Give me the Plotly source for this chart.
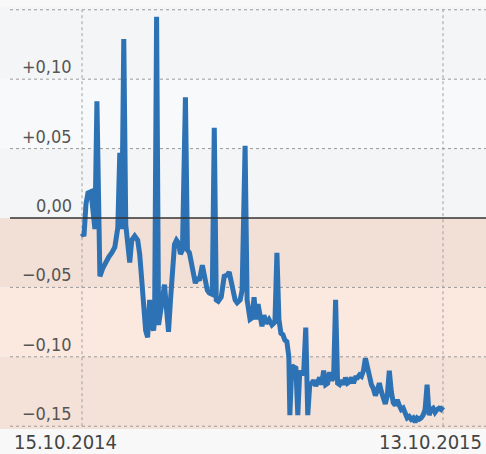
import pandas as pd
import plotly.graph_objects as go

start_date = "2014-10-15"
end_date = "2015-10-13"

days_since_start = [
    0, 2, 4, 6, 9, 11, 13, 15, 17, 18, 21, 24, 27, 30, 33, 36, 38, 40, 42, 44,
    46, 48, 50, 53, 56, 58, 60, 62, 64, 66, 68, 70, 72, 73, 75, 77, 79, 81, 83, 85,
    87, 89, 91, 93, 95, 97, 99, 101, 104, 106, 108, 111, 114, 116, 118, 121, 124, 126, 128, 131,
    133, 135, 137, 140, 143, 146, 148, 150, 152, 154, 156, 159, 161, 164, 166, 167, 169, 171, 173, 175,
    177, 181, 183, 185, 188, 191, 194, 196, 198, 200, 202, 204, 206, 208, 209, 211, 213, 215, 217, 219,
    221, 223, 225, 227, 229, 231, 233, 235, 237, 239, 241, 243, 245, 247, 249, 251, 253, 255, 257, 259,
    261, 263, 265, 267, 269, 271, 273, 275, 277, 279, 281, 283, 285, 287, 289, 291, 293, 295, 297, 299,
    301, 303, 305, 307, 309, 311, 313, 315, 317, 319, 321, 323, 325, 327, 329, 331, 333, 335, 337, 339,
    341, 343, 345, 347, 349, 351, 353, 355, 357, 359, 361, 363,
]

values = [
    -0.011, -0.013, 0.010, 0.018, 0.019, 0.002, -0.008, 0.084, -0.034, -0.042, -0.036, -0.031, -0.028, -0.025, -0.021, -0.007, 0.047, -0.008, 0.129, -0.005,
    -0.023, -0.032, -0.016, -0.013, -0.016, -0.026, -0.044, -0.066, -0.081, -0.086, -0.059, -0.077, -0.081, -0.073, 0.145, -0.077, -0.066, -0.058, -0.048, -0.066,
    -0.082, -0.059, -0.030, -0.019, -0.016, -0.018, -0.026, -0.023, 0.087, -0.023, -0.025, -0.035, -0.047, -0.043, -0.045, -0.034, -0.045, -0.052, -0.054, -0.055,
    0.065, -0.059, -0.060, -0.057, -0.042, -0.041, -0.039, -0.046, -0.052, -0.059, -0.061, -0.059, -0.052, 0.052, -0.059, -0.064, -0.073, -0.072, -0.057, -0.073,
    -0.062, -0.078, -0.070, -0.076, -0.073, -0.077, -0.075, -0.025, -0.073, -0.083, -0.084, -0.088, -0.089, -0.100, -0.142, -0.106, -0.108, -0.107, -0.142, -0.110,
    -0.113, -0.110, -0.079, -0.142, -0.120, -0.119, -0.117, -0.121, -0.118, -0.115, -0.120, -0.110, -0.120, -0.119, -0.111, -0.117, -0.115, -0.059, -0.119, -0.120,
    -0.117, -0.120, -0.115, -0.119, -0.118, -0.115, -0.119, -0.115, -0.115, -0.113, -0.114, -0.110, -0.101, -0.108, -0.113, -0.120, -0.123, -0.128, -0.124, -0.119,
    -0.125, -0.129, -0.134, -0.128, -0.110, -0.125, -0.133, -0.135, -0.131, -0.135, -0.138, -0.137, -0.140, -0.144, -0.143, -0.145, -0.144, -0.147, -0.144, -0.145,
    -0.144, -0.142, -0.138, -0.120, -0.142, -0.138, -0.137, -0.140, -0.138, -0.137, -0.138, -0.136,
]

y_ticks = [0.10, 0.05, 0.00, -0.05, -0.10, -0.15]
y_tick_labels = ["+0,10", "+0,05", "0,00", "\u22120,05", "\u22120,10", "\u22120,15"]
x_tick_labels = ["15.10.2014", "13.10.2015"]
band_edges = [0.152, 0.10, 0.05, 0.0, -0.05, -0.10, -0.152]
band_colors = ["#f4f5f6", "#f8f9fa", "#f4f5f6", "#f2dfd5", "#fbe8df", "#f4e1d7"]

W, H = 486, 454
t0 = pd.Timestamp(start_date)
t1 = pd.Timestamp(end_date)
dates = [t0 + pd.Timedelta(days=d) for d in days_since_start]

# x range so that start_date sits at px 82 and end_date at px 443 of a 486-px-wide plot
px0, px1 = 82, 443
day_per_px = (t1 - t0) / (px1 - px0)
x_left = t0 - day_per_px * px0
x_right = t0 + day_per_px * (W - px0)

fig = go.Figure()
fig.add_trace(go.Scatter(
    x=dates, y=values, mode="lines",
    line=dict(color="#2c72b5", width=5),
    hoverinfo="skip", showlegend=False,
))

shapes = []
for i, c in enumerate(band_colors):
    shapes.append(dict(type="rect", xref="paper", yref="y", x0=0, x1=1,
                       y0=band_edges[i + 1], y1=band_edges[i], fillcolor=c,
                       line=dict(width=0), layer="below"))
gx0 = 10 / W
for v in [0.15] + y_ticks:
    if v == 0:
        continue
    shapes.append(dict(type="line", xref="paper", yref="y", x0=gx0, x1=1, y0=v, y1=v,
                       line=dict(color="#9a9a9a", width=1, dash="dot"), layer="below"))
for d in [t0, t1]:
    shapes.append(dict(type="line", xref="x", yref="y", x0=d, x1=d, y0=-0.15, y1=0.15,
                       line=dict(color="#a0a0a0", width=1, dash="dot"), layer="below"))
shapes.append(dict(type="line", xref="paper", yref="y", x0=gx0, x1=1, y0=0, y1=0,
                   line=dict(color="#333333", width=1.6), layer="above"))

font_fam = "Liberation Sans Narrow, DejaVu Sans Condensed, sans-serif"
annotations = []
for v, lab in zip(y_ticks, y_tick_labels):
    annotations.append(dict(x=74 / W, xref="paper", y=v, yref="y", text=lab,
                            showarrow=False, xanchor="right", yanchor="bottom", yshift=0,
                            font=dict(family=font_fam, size=18, color="#555555")))
annotations.append(dict(x=12 / W, xref="paper", y=-0.15, yref="y", text=x_tick_labels[0],
                        showarrow=False, xanchor="left", yanchor="top", yshift=-2,
                        font=dict(family=font_fam, size=20, color="#444444")))
annotations.append(dict(x=484 / W, xref="paper", y=-0.15, yref="y", text=x_tick_labels[1],
                        showarrow=False, xanchor="right", yanchor="top", yshift=-2,
                        font=dict(family=font_fam, size=20, color="#444444")))

fig.update_layout(
    width=W, height=H,
    margin=dict(l=0, r=0, t=7, b=25),
    paper_bgcolor="#f8f8f8", plot_bgcolor="#f8f8f8",
    xaxis=dict(range=[x_left, x_right], visible=False, showgrid=False, zeroline=False),
    yaxis=dict(range=[-0.152, 0.152], visible=False, showgrid=False, zeroline=False),
    shapes=shapes, annotations=annotations,
)

fig.write_html(
    "out.html",
    config={"displayModeBar": False},
    post_script="document.body.style.margin='0';document.body.style.overflow='hidden';",
)
